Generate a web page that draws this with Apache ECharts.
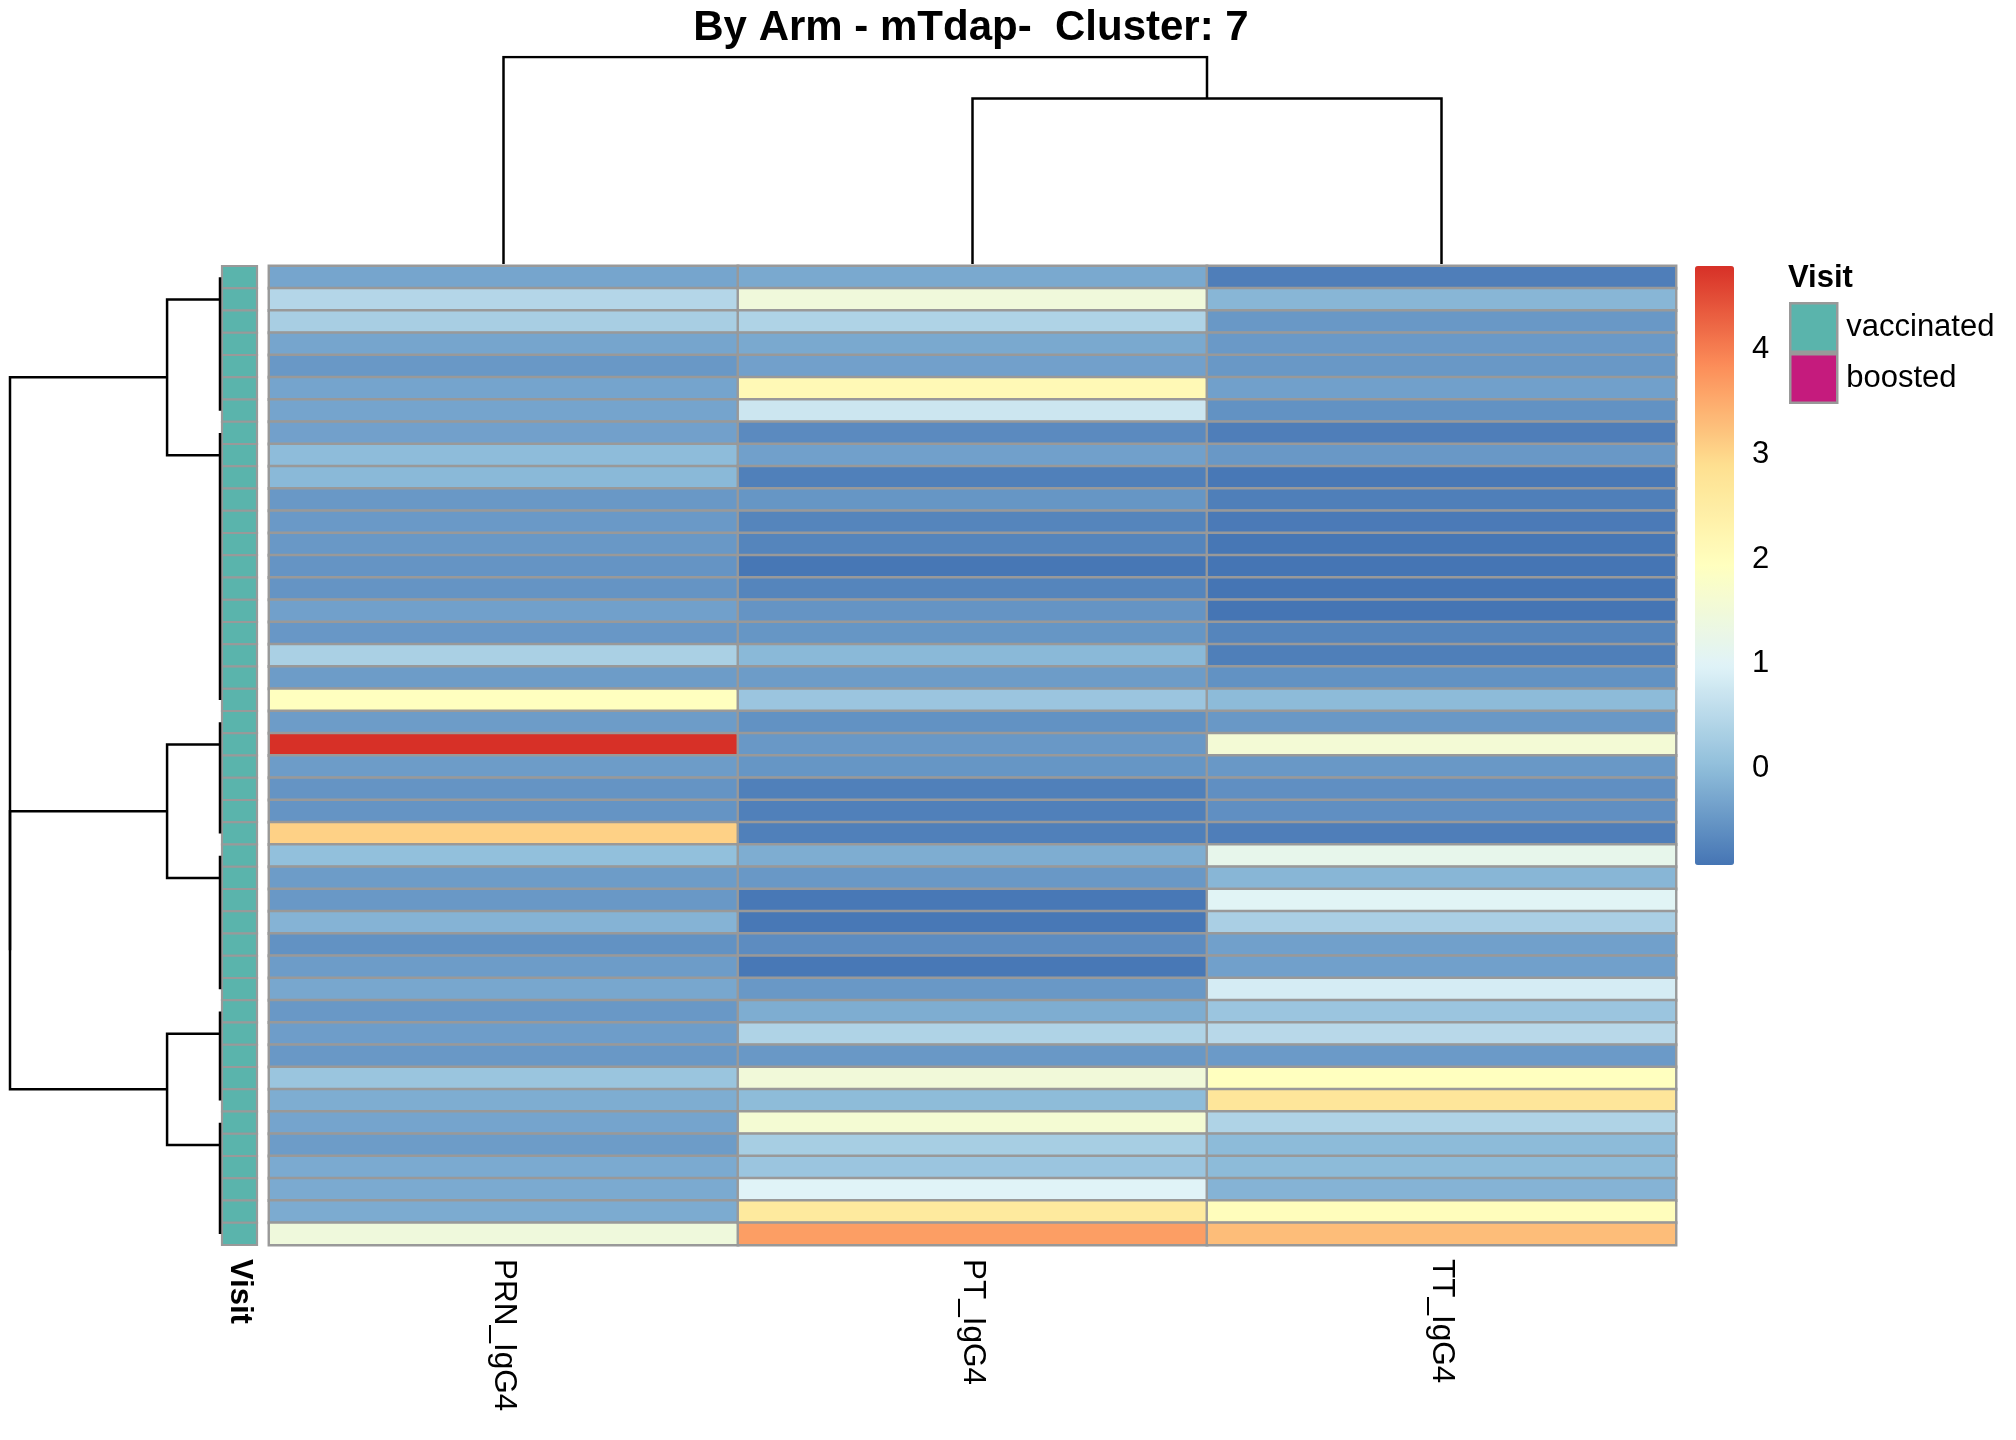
<!DOCTYPE html>
<html>
<head>
<meta charset="utf-8">
<script src="https://cdn.jsdelivr.net/npm/echarts@6/dist/echarts.min.js"></script>
<style>
html,body{margin:0;padding:0;background:#fff;}
#chart{width:2016px;height:1440px;}
</style>
</head>
<body>
<div id="chart"></div>
<script>
// ---------------- data ----------------
const columns = ['PRN_IgG4', 'PT_IgG4', 'TT_IgG4'];
const prnValues = [-0.30, 0.45, 0.31, -0.30, -0.47, -0.32, -0.32, -0.36, 0.00, -0.05,
  -0.47, -0.46, -0.47, -0.52, -0.52, -0.37, -0.48, 0.34, -0.42, 1.95,
  -0.42, 4.80, -0.42, -0.52, -0.52, 3.07, 0.05, -0.42, -0.47, -0.12,
  -0.55, -0.42, -0.28, -0.47, -0.40, -0.47, 0.14, -0.20, -0.32, -0.42,
  -0.24, -0.24, -0.23, 1.45];
const ptValues = [-0.25, 1.48, 0.40, -0.25, -0.36, 2.12, 0.74, -0.65, -0.37, -0.78,
  -0.50, -0.72, -0.72, -0.90, -0.72, -0.52, -0.50, -0.05, -0.42, 0.15,
  -0.55, -0.47, -0.50, -0.78, -0.78, -0.78, -0.20, -0.47, -0.88, -0.88,
  -0.62, -0.88, -0.47, -0.20, 0.40, -0.47, 1.50, -0.01, 1.60, 0.30,
  0.15, 1.00, 2.60, 3.65];
const ttValues = [-0.80, -0.08, -0.47, -0.45, -0.47, -0.37, -0.55, -0.80, -0.47, -0.88,
  -0.79, -0.85, -0.89, -0.92, -0.92, -0.92, -0.72, -0.79, -0.55, -0.02,
  -0.47, 1.57, -0.47, -0.58, -0.58, -0.80, 1.20, -0.08, 1.03, 0.33,
  -0.37, -0.37, 0.85, 0.15, 0.50, -0.44, 1.95, 2.70, 0.40, -0.02,
  -0.02, -0.12, 2.00, 3.30];
const visit = new Array(44).fill('vaccinated');
const visitLevels = ['vaccinated', 'boosted'];
const visitColors = ['#5AB4AC', '#C51B7D'];
const colorTicks = [0, 1, 2, 3, 4];
const valueMin = -0.92, valueMax = 4.80;
const palette = ['#4575B4', '#91BFDB', '#E0F3F8', '#FFFFBF', '#FEE090', '#FC8D59', '#D73027'];

// row dendrogram: leaf groups (first,last row), node positions (row units), merges [a, b, height]
const rowGroupRanges = [[0, 6], [7, 19], [20, 25], [26, 32], [33, 37], [38, 43]];
const rowGroupPos = [1.5, 8.5, 21.5, 27.5, 34.5, 39.5];
const rowMerges = [['g0', 'g1', 0.252], ['g2', 'g3', 0.252], ['g4', 'g5', 0.252], ['m1', 'm2', 1.0], ['m0', 'm3', 1.0]];
// column dendrogram: leaves at column centres, merges [a, b, height]
const colMerges = [['l1', 'l2', 0.80], ['l0', 'm0', 1.0]];

// ---------------- build ----------------
const rowIds = visit.map((v, i) => 'S' + (i + 1));
const allCols = [prnValues, ptValues, ttValues];
const heatData = [];
allCols.forEach((arr, c) => arr.forEach((v, r) => heatData.push([c, r, v])));

function buildRowTree() {
  const lines = [];
  const nodes = {};
  rowGroupRanges.forEach((g, i) => {
    lines.push({coords: [[0, g[0] + 0.5], [0, g[1] + 0.5]]});
    nodes['g' + i] = {pos: rowGroupPos[i], h: 0};
  });
  rowMerges.forEach((m, i) => {
    const a = nodes[m[0]], b = nodes[m[1]], h = m[2];
    lines.push({coords: [[a.h, a.pos], [h, a.pos], [h, b.pos], [b.h, b.pos]]});
    nodes['m' + i] = {pos: (a.pos + b.pos) / 2, h: h};
  });
  return lines;
}
function buildColTree() {
  const lines = [];
  const nodes = {};
  columns.forEach((c, i) => { nodes['l' + i] = {pos: i + 0.5, h: 0}; });
  colMerges.forEach((m, i) => {
    const a = nodes[m[0]], b = nodes[m[1]], h = m[2];
    lines.push({coords: [[a.pos, a.h], [a.pos, h], [b.pos, h], [b.pos, b.h]]});
    nodes['m' + i] = {pos: (a.pos + b.pos) / 2, h: h};
  });
  return lines;
}

const FONT = '"Liberation Sans", Arial, sans-serif';
const HM = {left: 269, top: 266, width: 1407, height: 979};
const tickStep = 599 / (valueMax - valueMin);
const zeroY = HM.top + valueMax * tickStep;

const chart = echarts.init(document.getElementById('chart'), null, {renderer: 'canvas'});
const annotSeries = visitLevels.map((lvl, k) => ({
  type: 'custom',
  name: lvl,
  xAxisIndex: 1, yAxisIndex: 1,
  itemStyle: {color: visitColors[k]},
  data: visit.map((v, i) => v === lvl ? [0, i] : null).filter(d => d),
  renderItem: function (params, api) {
    const p = api.coord([api.value(0), api.value(1)]);
    const s = api.size([1, 1]);
    return {type: 'rect', shape: {x: p[0] - s[0] / 2, y: p[1] - s[1] / 2, width: s[0], height: s[1]},
      style: {fill: visitColors[k], stroke: '#999999', lineWidth: 2.2}};
  },
  silent: true
}));

chart.setOption({
  animation: false,
  backgroundColor: '#ffffff',
  textStyle: {fontFamily: FONT},
  title: [
    {text: 'By Arm - mTdap-  Cluster: 7', left: 966, top: 2, textAlign: 'center',
      textStyle: {fontFamily: FONT, fontWeight: 'bold', fontSize: 42, color: '#000'}},
    {text: 'Visit', left: 1788, top: 263, padding: 0,
      textStyle: {fontFamily: FONT, fontWeight: 'bold', fontSize: 31, color: '#000'}}
  ],
  legend: {
    orient: 'vertical', left: 1789, top: 302, padding: 0, itemGap: 0,
    itemWidth: 47, itemHeight: 48.5, icon: 'rect',
    data: visitLevels,
    itemStyle: {borderColor: '#999999', borderWidth: 2.5},
    textStyle: {fontFamily: FONT, fontSize: 31, color: '#000', padding: [0, 0, 0, 4]},
    selectedMode: false
  },
  grid: [
    {left: HM.left, top: HM.top, width: HM.width, height: HM.height},
    {left: 222, top: HM.top, width: 35, height: HM.height},
    {left: 10, top: HM.top, width: 210, height: HM.height},
    {left: HM.left, top: 57, width: HM.width, height: 207},
    {left: 1695, top: zeroY - 5 * tickStep, width: 39, height: 6 * tickStep}
  ],
  xAxis: [
    {type: 'category', gridIndex: 0, data: columns, position: 'bottom',
      axisLine: {show: false}, axisTick: {show: false}, splitLine: {show: false},
      axisLabel: {rotate: -90, margin: 14, fontSize: 31.5, color: '#000', fontFamily: FONT}},
    {type: 'category', gridIndex: 1, data: ['Visit'], position: 'bottom',
      axisLine: {show: false}, axisTick: {show: false},
      axisLabel: {rotate: -90, margin: 14, fontSize: 31, fontWeight: 'bold', color: '#000', fontFamily: FONT}},
    {type: 'value', gridIndex: 2, min: 0, max: 1, inverse: true, show: false},
    {type: 'value', gridIndex: 3, min: 0, max: 3, show: false},
    {type: 'value', gridIndex: 4, min: 0, max: 1, show: false}
  ],
  yAxis: [
    {type: 'category', gridIndex: 0, data: rowIds, inverse: true, show: false},
    {type: 'category', gridIndex: 1, data: rowIds, inverse: true, show: false},
    {type: 'value', gridIndex: 2, min: 0, max: 44, inverse: true, show: false},
    {type: 'value', gridIndex: 3, min: 0, max: 1, show: false},
    {type: 'value', gridIndex: 4, min: -1, max: 5, interval: 1, position: 'right',
      axisLine: {show: false}, axisTick: {show: false}, splitLine: {show: false},
      axisLabel: {margin: 18, fontSize: 31, color: '#000', fontFamily: FONT,
        formatter: v => colorTicks.indexOf(v) >= 0 ? String(v) : ''}}
  ],
  visualMap: {
    type: 'continuous', seriesIndex: 0, min: valueMin, max: valueMax,
    inRange: {color: palette}, calculable: false, realtime: false,
    left: 1695, top: HM.top, itemWidth: 39, itemHeight: 599, padding: 0,
    text: null, showLabel: false, hoverLink: false
  },
  series: [
    {type: 'heatmap', xAxisIndex: 0, yAxisIndex: 0, data: heatData,
      itemStyle: {borderColor: '#999999', borderWidth: 2.4}, silent: true,
      emphasis: {disabled: true}},
    annotSeries[0],
    annotSeries[1],
    {type: 'lines', coordinateSystem: 'cartesian2d', xAxisIndex: 2, yAxisIndex: 2, polyline: true,
      data: buildRowTree(), silent: true,
      lineStyle: {color: '#000', width: 2.5, opacity: 1}},
    {type: 'lines', coordinateSystem: 'cartesian2d', xAxisIndex: 3, yAxisIndex: 3, polyline: true,
      data: buildColTree(), silent: true,
      lineStyle: {color: '#000', width: 2.5, opacity: 1}},
    {type: 'scatter', xAxisIndex: 4, yAxisIndex: 4, data: [], silent: true}
  ]
});
</script>
</body>
</html>
